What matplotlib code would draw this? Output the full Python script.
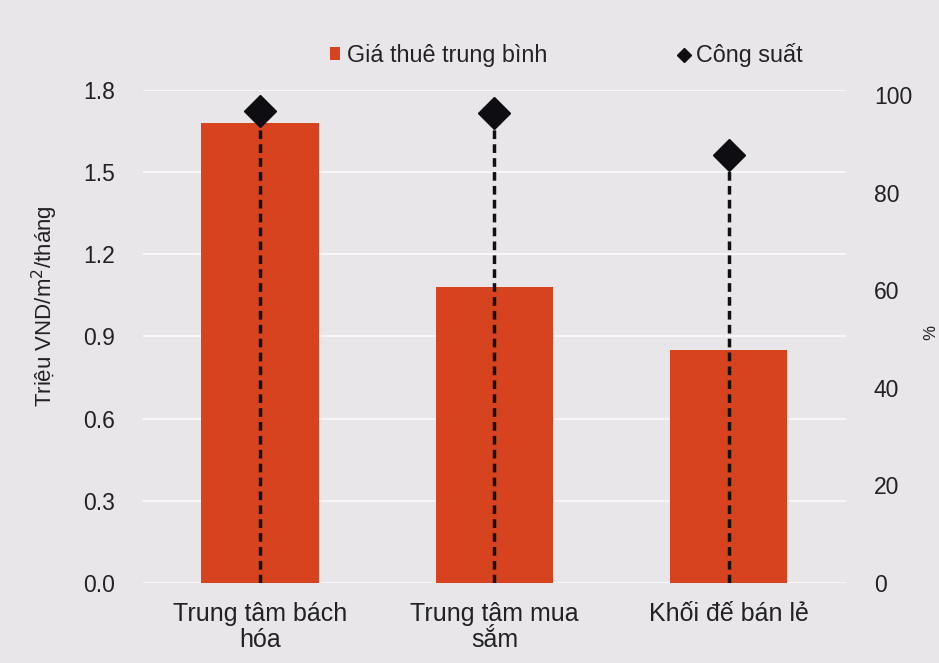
import numpy as np
import matplotlib.pyplot as plt

plt.rcParams['font.family'] = ['Liberation Sans', 'DejaVu Sans']

categories = ["Trung tâm bách\nhóa", "Trung tâm mua\nsắm", "Khối đế bán lẻ"]
rent = [1.68, 1.08, 0.85]          # triệu VND/m2/tháng
occupancy = [96.7, 96.3, 87.7]     # %

bg = '#e9e6ea'
bar_color = '#d8431f'
txt = '#222222'

fig = plt.figure(figsize=(9.39, 6.63), dpi=100, facecolor=bg)
ax = fig.add_axes([0.152, 0.121, 0.749, 0.743], facecolor=bg)
ax2 = ax.twinx()

x = np.arange(len(categories))
ax.bar(x, rent, width=0.5, color=bar_color, zorder=2, label='Giá thuê trung bình')

ax.set_ylim(0, 1.8)
ax.set_yticks(np.arange(0, 1.81, 0.3))
ax.set_yticklabels([f"{v:.1f}" for v in np.arange(0, 1.81, 0.3)])
ax.set_xlim(-0.5, 2.5)
ax.set_xticks(x)
ax.set_xticklabels(categories, linespacing=1.1)
ax.grid(axis='y', color='#f7f6f8', linewidth=1.5, zorder=0)
ax.set_axisbelow(True)

ax2.set_ylim(0, 101)
ax2.set_yticks(np.arange(0, 101, 20))
ax2.vlines(x, 0, occupancy, colors='#111111', linestyles=(0, (2.5, 1.5)), linewidth=2.5, zorder=3)
ax2.plot(x, occupancy, linestyle='none', marker='D', markersize=16, color='#0d0d12',
         zorder=4, label='Công suất')

for a in (ax, ax2):
    for s in a.spines.values():
        s.set_visible(False)
    a.tick_params(length=0, labelsize=16.5, colors=txt)
ax.tick_params(axis='y', pad=20)
ax.tick_params(axis='x', pad=14, labelsize=18)
ax2.tick_params(axis='y', pad=20)

fig.text(45 / 939, 1 - 306 / 663, 'Triệu VND/m$^2$/tháng', rotation=90, fontsize=16,
         color=txt, ha='center', va='center')
fig.text(926 / 939, 1 - 332 / 663, '%', rotation=270, fontsize=12,
         color=txt, ha='center', va='center')

h1, l1 = ax.get_legend_handles_labels()
h2 = [plt.Line2D([], [], linestyle='none', marker='D', markersize=7, color='#0d0d12')]
fig.legend(h1 + h2, l1 + ['Công suất'], loc='center', bbox_to_anchor=(0.603, 0.917),
           ncol=2, frameon=False, fontsize=16.8, columnspacing=5.6, handlelength=0.45,
           handleheight=0.45, handletextpad=0.3, labelcolor=txt)

fig.savefig('out.png', dpi=100, facecolor=bg)
